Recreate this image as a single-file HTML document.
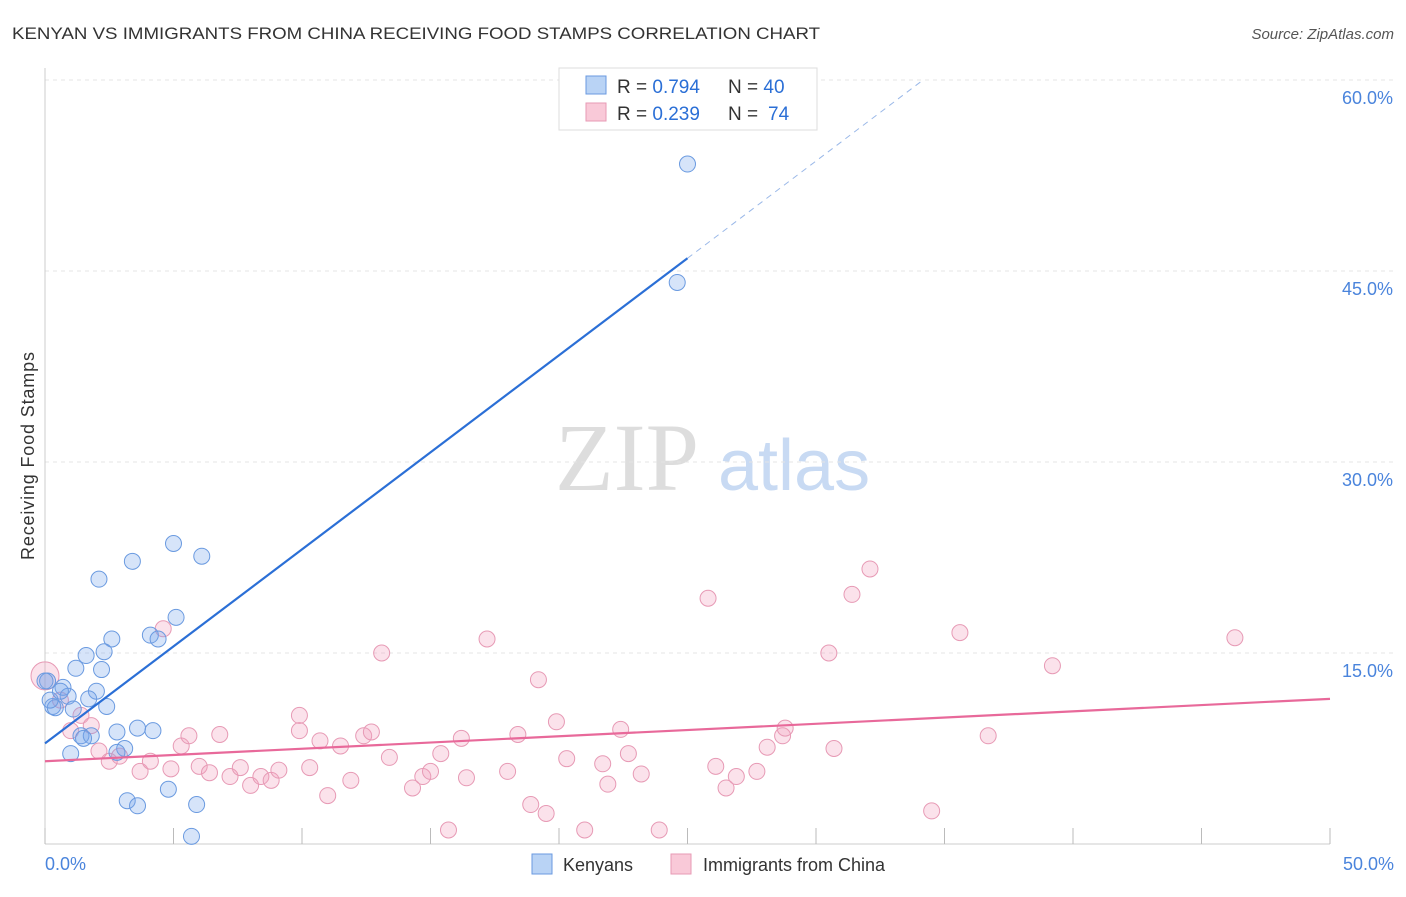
<!DOCTYPE html>
<html><head><meta charset="utf-8"><style>
body{margin:0;background:#fff;font-family:"Liberation Sans",sans-serif;}
</style></head><body>
<svg width="1406" height="892" style="font-family:'Liberation Sans',sans-serif">
<text x="12" y="39" font-size="17" fill="#333" textLength="808" lengthAdjust="spacingAndGlyphs">KENYAN VS IMMIGRANTS FROM CHINA RECEIVING FOOD STAMPS CORRELATION CHART</text>
<text x="1394" y="39" font-size="15" fill="#555" text-anchor="end" font-style="italic">Source: ZipAtlas.com</text>
<text x="34" y="456" font-size="18" fill="#333" transform="rotate(-90 34 456)" text-anchor="middle" textLength="208">Receiving Food Stamps</text>
<text x="555" y="490" font-size="96" fill="#ddd" font-family="Liberation Serif,serif">ZIP</text>
<text x="718" y="490" font-size="72" fill="#c8daf3">atlas</text>
<g id="grid"></g><g id="pts"></g><g id="lines"></g>
<g>
<rect x="559" y="68" width="258" height="62" fill="#fff" stroke="#ddd"/>
<rect x="586" y="76" width="20" height="18" fill="#b9d3f5" stroke="#6a9ae0"/>
<rect x="586" y="103" width="20" height="18" fill="#f9c9d8" stroke="#e79ab5"/>
<text x="617" y="93" font-size="19" fill="#333">R = <tspan fill="#2b6fd6">0.794</tspan></text>
<text x="728" y="93" font-size="19" fill="#333">N = <tspan fill="#2b6fd6">40</tspan></text>
<text x="617" y="120" font-size="19" fill="#333">R = <tspan fill="#2b6fd6">0.239</tspan></text>
<text x="728" y="120" font-size="19" fill="#333">N = <tspan fill="#2b6fd6" x="768">74</tspan></text>
</g>
<g>
<rect x="532" y="854" width="20" height="20" fill="#b9d3f5" stroke="#6a9ae0"/>
<text x="563" y="871" font-size="18" fill="#333">Kenyans</text>
<rect x="671" y="854" width="20" height="20" fill="#f9c9d8" stroke="#e79ab5"/>
<text x="703" y="871" font-size="18" fill="#333">Immigrants from China</text>
</g>
</svg>
<script>
const yTicks=[15,30,45,60];
const xTickVals=[0,5,10,15,20,25,30,35,40,45,50];
const blueX=[25.0,24.6,5.0,6.1,3.4,2.1,5.1,4.1,4.4,2.6,1.6,2.3,1.2,2.2,0.1,0.7,2.0,0.9,1.7,0.3,2.4,1.1,0.4,4.2,3.6,2.8,1.4,1.8,3.1,2.8,1.0,3.2,3.6,4.8,5.9,5.7,0.0,0.2,0.6,1.5];
const blueY=[53.4,44.1,23.6,22.6,22.2,20.8,17.8,16.4,16.1,16.1,14.8,15.1,13.8,13.7,12.8,12.3,12.0,11.6,11.4,10.8,10.8,10.6,10.7,8.9,9.1,8.8,8.5,8.5,7.5,7.2,7.1,3.4,3.0,4.3,3.1,0.6,12.8,11.3,12.0,8.3];
const pinkX=[0,0.6,1.4,1.8,4.6,1.0,2.1,2.5,2.9,3.7,4.1,4.9,5.3,5.6,6.0,6.4,6.8,7.2,7.6,8.0,8.4,8.8,9.1,9.9,9.9,10.3,10.7,11.0,11.5,11.9,12.4,12.7,13.1,13.4,14.3,14.7,15.0,15.4,15.7,16.2,16.4,17.2,18.0,18.4,18.9,19.2,19.5,19.9,20.3,21.0,21.7,21.9,22.4,22.7,23.2,23.9,25.8,26.1,26.5,26.9,27.7,28.1,28.7,28.8,30.5,30.7,31.4,32.1,34.5,35.6,36.7,39.2,46.3];
const pinkY=[13.2,11.3,10.1,9.3,16.9,8.9,7.3,6.5,6.9,5.7,6.5,5.9,7.7,8.5,6.1,5.6,8.6,5.3,6.0,4.6,5.3,5.0,5.8,8.9,10.1,6.0,8.1,3.8,7.7,5.0,8.5,8.8,15.0,6.8,4.4,5.3,5.7,7.1,1.1,8.3,5.2,16.1,5.7,8.6,3.1,12.9,2.4,9.6,6.7,1.1,6.3,4.7,9.0,7.1,5.5,1.1,19.3,6.1,4.4,5.3,5.7,7.6,8.5,9.1,15.0,7.5,19.6,21.6,2.6,16.6,8.5,14.0,16.2];
const X=v=>45+v/50*1285, Y=v=>844-v/15*191;
const NS="http://www.w3.org/2000/svg";
function mk(t,a,p){const e=document.createElementNS(NS,t);for(const k in a)e.setAttribute(k,a[k]);document.getElementById(p).appendChild(e);return e;}
yTicks.forEach(v=>{
 const g=mk('line',{x1:45,x2:1394,y1:Y(v),y2:Y(v),stroke:'#e4e4e4','stroke-dasharray':'4 4'},'grid');
 
 
 const t=mk('text',{x:1393,y:Y(v)+24,'font-size':18,fill:'#4a84dc','text-anchor':'end'},'grid');t.textContent=v.toFixed(1)+'%';
 
 
});
mk('line',{x1:45,x2:45,y1:68,y2:844,stroke:'#ccc'},'grid');
mk('line',{x1:45,x2:1330,y1:844,y2:844,stroke:'#ccc'},'grid');
xTickVals.forEach(v=>{const l=mk('line',{x1:X(v),x2:X(v),y1:828,y2:844,stroke:'#bbb'},'grid');
 
 });
[[0,'0.0%',45,'start'],[50,'50.0%',1394,'end']].forEach(d=>{const t=mk('text',{x:d[2],y:870,'font-size':18,fill:'#4a84dc','text-anchor':d[3]},'grid');t.textContent=d[1];
 
 });
pinkX.forEach((v,i)=>{const c=mk('circle',{cx:X(v),cy:Y(pinkY[i]),r:i==0?14:8,fill:'rgba(242,160,188,0.3)',stroke:'#e79ab5','stroke-width':1},'pts');
 
 });
blueX.forEach((v,i)=>{const c=mk('circle',{cx:X(v),cy:Y(blueY[i]),r:8,fill:'rgba(120,165,235,0.3)',stroke:'#6a9ae0','stroke-width':1},'pts');
 
 });
const bl=mk('line',{x1:X(0),y1:Y(7.9),x2:X(25),y2:Y(46.0),stroke:'#2b6fd6','stroke-width':2.2},'lines');


const bd=mk('line',{x1:X(25),y1:Y(46.0),x2:X(34.1),y2:Y(59.9),stroke:'#9ab8e8','stroke-width':1,'stroke-dasharray':'6 5'},'lines');


const pl=mk('line',{x1:X(0),y1:Y(6.5),x2:X(50),y2:Y(11.4),stroke:'#e8699a','stroke-width':2.2},'lines');


</script>
</body></html>
